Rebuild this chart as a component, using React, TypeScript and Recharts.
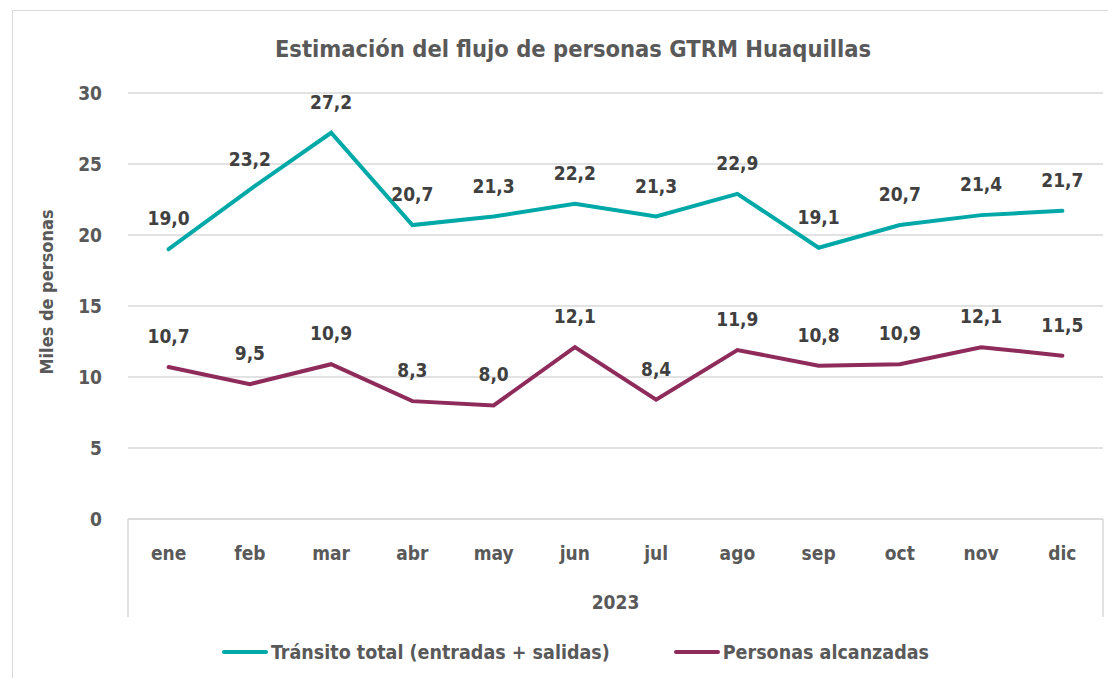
import { LineChart, Line, XAxis, YAxis, CartesianGrid, Legend, LabelList } from "recharts";

const MONTHS = ["ene", "feb", "mar", "abr", "may", "jun", "jul", "ago", "sep", "oct", "nov", "dic"];
const TRANSITO = [19.0, 23.2, 27.2, 20.7, 21.3, 22.2, 21.3, 22.9, 19.1, 20.7, 21.4, 21.7];
const ALCANZADAS = [10.7, 9.5, 10.9, 8.3, 8.0, 12.1, 8.4, 11.9, 10.8, 10.9, 12.1, 11.5];
const Y_TICKS = [0, 5, 10, 15, 20, 25, 30];
const YEAR = "2023";
const TITLE = "Estimación del flujo de personas GTRM Huaquillas";

const FONT = "'DejaVu Sans Condensed', 'Liberation Sans Narrow', sans-serif";
const TEXT = "#595959";
const GRID = "#D9D9D9";
const TEAL = "#00A8A8";
const PLUM = "#8E2B5B";

const SERIES = [
  { key: "transito", name: "Tránsito total (entradas + salidas)", color: TEAL },
  { key: "alcanzadas", name: "Personas alcanzadas", color: PLUM },
];

const data = MONTHS.map((m, i) => ({ month: m, transito: TRANSITO[i], alcanzadas: ALCANZADAS[i] }));

const fmt = (v: unknown) => Number(v).toFixed(1).replace(".", ",");

function MonthTick(props: any) {
  const { x, y, payload, index } = props;
  const half = payload?.offset ?? 40.6;
  return (
    <g>
      <text x={x} y={y + 41} textAnchor="middle" fill={TEXT} fontSize={19} fontWeight={700} fontFamily={FONT}>
        {payload.value}
      </text>
      {index === 0 && <line x1={x - half} y1={y} x2={x - half} y2={y + 98} stroke={GRID} strokeWidth={1.5} />}
      {index === MONTHS.length - 1 && (
        <line x1={x + half} y1={y} x2={x + half} y2={y + 98} stroke={GRID} strokeWidth={1.5} />
      )}
    </g>
  );
}

function LegendBox() {
  return (
    <div style={{ height: 50, display: "flex", alignItems: "flex-end", justifyContent: "center", paddingLeft: 36 }}>
      <div style={{ height: 30, display: "flex", alignItems: "center", fontFamily: FONT, fontSize: 19.5, fontWeight: 700, color: TEXT }}>
        {SERIES.map((s, i) => (
          <div key={s.key} style={{ display: "flex", alignItems: "center", marginLeft: i === 0 ? 0 : 64 }}>
            <div style={{ width: 46, height: 4, borderRadius: 2, background: s.color, marginRight: 3 }} />
            <span>{s.name}</span>
          </div>
        ))}
      </div>
    </div>
  );
}

export default function App() {
  return (
    <div style={{ position: "absolute", left: 0, top: 0, width: 1108, height: 678, background: "#fff", overflow: "hidden" }}>
      <div
        style={{
          position: "absolute",
          left: 12,
          top: 10,
          width: 1120,
          height: 700,
          border: `1.5px solid ${GRID}`,
        }}
      />
      <div
        style={{
          position: "absolute",
          left: 25,
          top: 35,
          width: 1096,
          textAlign: "center",
          fontFamily: FONT,
          fontSize: 23.5,
          fontWeight: 700,
          color: TEXT,
        }}
      >
        {TITLE}
      </div>
      <div style={{ position: "absolute", left: 0, top: 0 }}>
        <LineChart width={1108} height={678} data={data} margin={{ top: 93, right: 5, bottom: 11, left: 12 }}>
          <CartesianGrid vertical={false} stroke={GRID} strokeWidth={1.5} />
          <XAxis
            dataKey="month"
            scale="band"
            tick={<MonthTick />}
            tickLine={false}
            tickSize={0}
            tickMargin={0}
            axisLine={{ stroke: GRID, strokeWidth: 1.5 }}
            height={98}
            interval={0}
            label={{
              value: YEAR,
              position: "insideBottom",
              offset: 8,
              fill: TEXT,
              fontSize: 19,
              fontWeight: 700,
              fontFamily: FONT,
            }}
          />
          <YAxis
            domain={[0, 30]}
            ticks={Y_TICKS}
            width={116}
            axisLine={false}
            tickLine={false}
            tickMargin={20}
            tick={{ fill: TEXT, fontSize: 19, fontWeight: 700, fontFamily: FONT }}
            label={{
              content: () => (
                <text
                  transform="translate(46,292) rotate(-90)"
                  textAnchor="middle"
                  dominantBaseline="central"
                  fill={TEXT}
                  fontSize={18}
                  fontWeight={700}
                  fontFamily={FONT}
                >
                  Miles de personas
                </text>
              ),
            }}
          />
          <Legend verticalAlign="bottom" content={() => <LegendBox />} />
          {SERIES.map((s) => (
            <Line
              key={s.key}
              type="linear"
              dataKey={s.key}
              name={s.name}
              stroke={s.color}
              strokeWidth={4}
              strokeLinecap="round"
              dot={false}
              activeDot={false}
              isAnimationActive={false}
            >
              <LabelList
                dataKey={s.key}
                position="top"
                offset={24}
                formatter={fmt}
                fill="#404040"
                fontSize={19}
                fontWeight={700}
                fontFamily={FONT}
              />
            </Line>
          ))}
        </LineChart>
      </div>
    </div>
  );
}
